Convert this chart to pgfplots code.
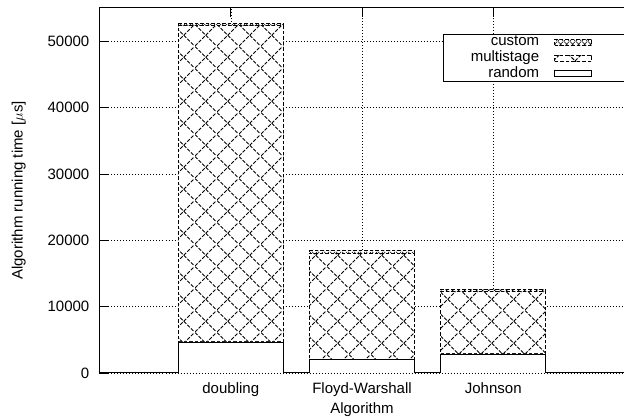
\documentclass[border=0pt]{standalone}
\usepackage{pgfplots}
\pgfplotsset{compat=1.18}
\usepackage{fontspec}
\setmainfont{Liberation Sans}
\usetikzlibrary{patterns,patterns.meta}

\pgfdeclarepattern{
  name=bigx, type=uncolored,
  bottom left={\pgfpoint{0pt}{0pt}},
  top right={\pgfpoint{21.7pt}{21.7pt}},
  tile size={\pgfpoint{21.7pt}{21.7pt}},
  code={
    \pgfsetlinewidth{0.9pt}
    \pgfsetdash{{3.6pt}{1.52pt}}{0pt}
    \pgfpathmoveto{\pgfpoint{0pt}{0pt}}\pgfpathlineto{\pgfpoint{21.7pt}{21.7pt}}
    \pgfpathmoveto{\pgfpoint{0pt}{21.7pt}}\pgfpathlineto{\pgfpoint{21.7pt}{0pt}}
    \pgfusepath{stroke}
  }
}
\pgfdeclarepattern{
  name=smallx, type=uncolored,
  bottom left={\pgfpoint{0pt}{0pt}},
  top right={\pgfpoint{6pt}{6pt}},
  tile size={\pgfpoint{6pt}{6pt}},
  code={
    \pgfsetlinewidth{0.6pt}
    \pgfpathmoveto{\pgfpoint{0pt}{0pt}}\pgfpathlineto{\pgfpoint{6pt}{6pt}}
    \pgfpathmoveto{\pgfpoint{0pt}{6pt}}\pgfpathlineto{\pgfpoint{6pt}{0pt}}
    \pgfusepath{stroke}
  }
}
\pgfplotsset{myleg/.style={legend image code/.code={%
  \draw[##1] (0pt,-3pt) rectangle (37pt,3pt);
  \pgfpathmoveto{\pgfpoint{66pt}{0pt}}\pgfpathlineto{\pgfpoint{66pt}{0pt}}\pgfusepath{discard}%
}}}

\begin{document}
\begin{tikzpicture}[font=\fontsize{15}{18}\selectfont]
\useasboundingbox (-99.5pt,-46pt) rectangle (524.5pt,373pt);
\begin{axis}[
  at={(0,0)}, anchor=south west,
  scale only axis, width=525pt, height=365pt,
  xmin=-1, xmax=3, ymin=0, ymax=55000,
  ybar stacked, bar width=0.8,
  xtick={0,1,2}, xticklabels={doubling,Floyd-Warshall,Johnson},
  ytick={0,10000,20000,30000,40000,50000},
  ytick pos=left,
  scaled y ticks=false,
  /pgf/number format/1000 sep={},
  /pgf/number format/assume math mode=true,
  grid=major,
  grid style={black, line width=0.5pt, dash pattern=on 0.7pt off 2.3pt},
  major tick length=9pt,
  tick style={black, line width=0.8pt},
  axis line style={black, line width=1pt},
  xticklabel style={anchor=north, inner sep=0pt, text height=10.7pt, text depth=3.2pt, yshift=-9.5pt},
  yticklabel style={anchor=east, inner sep=0pt, xshift=-10pt},
  xlabel={Algorithm},
  xlabel style={at={(axis description cs:0.5,-0.1014)}, anchor=center},
  ylabel={Algorithm running time [$\mu$s]},
  ylabel style={at={(axis description cs:-0.1537,0.5)}, anchor=center},
  legend style={at={(1,1)}, anchor=north east, xshift=7.5pt, yshift=-26pt,
    draw=black, fill=white, line width=0.7pt,
    font=\fontsize{15}{15}\selectfont,
    inner xsep=11pt, inner ysep=0pt, column sep=15pt,
    nodes={inner xsep=0pt, inner ysep=0pt, text height=11.2pt, text depth=4.6pt}},
  legend cell align=right,
  legend plot pos=right,
  reverse legend,
]
\addplot[draw=black, line width=0.8pt, fill=white, myleg]
  coordinates {(0,4680) (1,2020) (2,2870)};
\addlegendentry{random}
\addplot[draw=black, line width=1pt, dash pattern=on 3.5pt off 2pt,
  preaction={fill=white}, pattern=bigx, pattern color=black, myleg]
  coordinates {(0,47620) (1,16030) (2,9430)};
\addlegendentry{\hspace*{16pt}multistage}
\addplot[draw=black, line width=1pt, dash pattern=on 3.5pt off 2pt,
  preaction={fill=white}, pattern=smallx, pattern color=black, myleg]
  coordinates {(0,350) (1,350) (2,300)};
\addlegendentry{custom}
\end{axis}
\end{tikzpicture}
\end{document}
